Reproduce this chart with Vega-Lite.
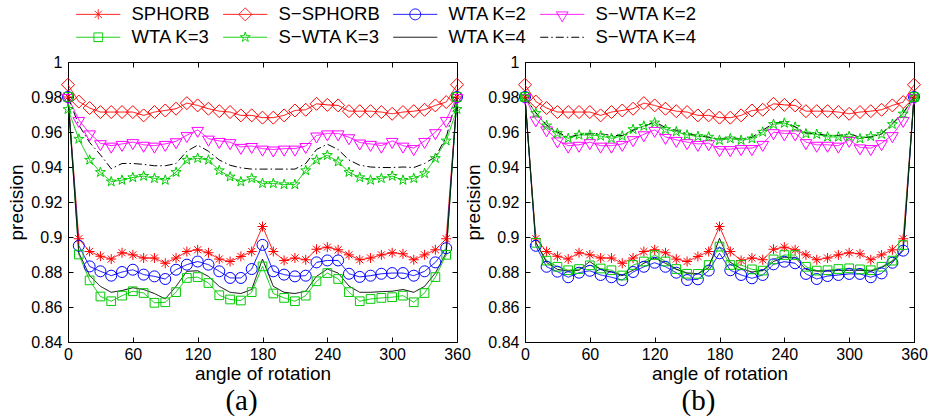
{
 "$schema": "https://vega.github.io/schema/vega-lite/v6.json",
 "padding": {"left": 7, "top": 5, "right": 0, "bottom": 0},
 "background": "white",
 "config": {
  "font": "Liberation Sans",
  "view": {"stroke": "black", "strokeWidth": 1},
  "axis": {"grid": false, "domain": false, "tickColor": "black", "tickSize": -5, "tickWidth": 1, "labelFontSize": 16, "labelColor": "black", "titleFontSize": 19, "titleFontWeight": "normal", "titleColor": "black", "labelFont": "Liberation Sans", "titleFont": "Liberation Sans", "labelFlush": false}
 },
 "data": {"values": [
  {"panel":"a","angle":0,"SPHORB":0.98,"S−SPHORB":0.987,"WTA K=2":0.98,"S−WTA K=2":0.98,"WTA K=3":0.98,"S−WTA K=3":0.973,"WTA K=4":0.98,"S−WTA K=4":0.98},
  {"panel":"a","angle":10,"SPHORB":0.899,"S−SPHORB":0.9774,"WTA K=2":0.895,"S−WTA K=2":0.9669,"WTA K=3":0.89,"S−WTA K=3":0.956,"WTA K=4":0.891,"S−WTA K=4":0.964},
  {"panel":"a","angle":20,"SPHORB":0.8917,"S−SPHORB":0.9737,"WTA K=2":0.8832,"S−WTA K=2":0.9592,"WTA K=3":0.8752,"S−WTA K=3":0.944,"WTA K=4":0.878,"S−WTA K=4":0.954},
  {"panel":"a","angle":30,"SPHORB":0.889,"S−SPHORB":0.9714,"WTA K=2":0.8804,"S−WTA K=2":0.9536,"WTA K=3":0.866,"S−WTA K=3":0.937,"WTA K=4":0.8718,"S−WTA K=4":0.947},
  {"panel":"a","angle":40,"SPHORB":0.8874,"S−SPHORB":0.9714,"WTA K=2":0.8779,"S−WTA K=2":0.9522,"WTA K=3":0.8633,"S−WTA K=3":0.9316,"WTA K=4":0.8684,"S−WTA K=4":0.939},
  {"panel":"a","angle":50,"SPHORB":0.891,"S−SPHORB":0.9714,"WTA K=2":0.88,"S−WTA K=2":0.9532,"WTA K=3":0.8665,"S−WTA K=3":0.9325,"WTA K=4":0.8694,"S−WTA K=4":0.942},
  {"panel":"a","angle":60,"SPHORB":0.8898,"S−SPHORB":0.9714,"WTA K=2":0.8813,"S−WTA K=2":0.9542,"WTA K=3":0.869,"S−WTA K=3":0.934,"WTA K=4":0.871,"S−WTA K=4":0.942},
  {"panel":"a","angle":70,"SPHORB":0.888,"S−SPHORB":0.9695,"WTA K=2":0.8785,"S−WTA K=2":0.9527,"WTA K=3":0.868,"S−WTA K=3":0.9348,"WTA K=4":0.87,"S−WTA K=4":0.9415},
  {"panel":"a","angle":80,"SPHORB":0.888,"S−SPHORB":0.9714,"WTA K=2":0.8775,"S−WTA K=2":0.9522,"WTA K=3":0.8624,"S−WTA K=3":0.9335,"WTA K=4":0.8677,"S−WTA K=4":0.9407},
  {"panel":"a","angle":90,"SPHORB":0.885,"S−SPHORB":0.9723,"WTA K=2":0.876,"S−WTA K=2":0.9532,"WTA K=3":0.8627,"S−WTA K=3":0.9325,"WTA K=4":0.8646,"S−WTA K=4":0.9407},
  {"panel":"a","angle":100,"SPHORB":0.888,"S−SPHORB":0.9733,"WTA K=2":0.8813,"S−WTA K=2":0.9547,"WTA K=3":0.8685,"S−WTA K=3":0.937,"WTA K=4":0.8718,"S−WTA K=4":0.942},
  {"panel":"a","angle":110,"SPHORB":0.8917,"S−SPHORB":0.9765,"WTA K=2":0.8842,"S−WTA K=2":0.9582,"WTA K=3":0.8766,"S−WTA K=3":0.944,"WTA K=4":0.8804,"S−WTA K=4":0.949},
  {"panel":"a","angle":120,"SPHORB":0.8927,"S−SPHORB":0.9752,"WTA K=2":0.886,"S−WTA K=2":0.9612,"WTA K=3":0.8771,"S−WTA K=3":0.945,"WTA K=4":0.8807,"S−WTA K=4":0.9525},
  {"panel":"a","angle":130,"SPHORB":0.891,"S−SPHORB":0.9733,"WTA K=2":0.8842,"S−WTA K=2":0.9562,"WTA K=3":0.8737,"S−WTA K=3":0.944,"WTA K=4":0.8775,"S−WTA K=4":0.949},
  {"panel":"a","angle":140,"SPHORB":0.8874,"S−SPHORB":0.9719,"WTA K=2":0.8804,"S−WTA K=2":0.9549,"WTA K=3":0.8667,"S−WTA K=3":0.938,"WTA K=4":0.8718,"S−WTA K=4":0.944},
  {"panel":"a","angle":150,"SPHORB":0.886,"S−SPHORB":0.9714,"WTA K=2":0.8766,"S−WTA K=2":0.9542,"WTA K=3":0.8643,"S−WTA K=3":0.9344,"WTA K=4":0.8684,"S−WTA K=4":0.941},
  {"panel":"a","angle":160,"SPHORB":0.8889,"S−SPHORB":0.9695,"WTA K=2":0.8766,"S−WTA K=2":0.9515,"WTA K=3":0.8637,"S−WTA K=3":0.9316,"WTA K=4":0.8677,"S−WTA K=4":0.9395},
  {"panel":"a","angle":170,"SPHORB":0.8917,"S−SPHORB":0.9695,"WTA K=2":0.8817,"S−WTA K=2":0.952,"WTA K=3":0.8685,"S−WTA K=3":0.9335,"WTA K=4":0.87,"S−WTA K=4":0.9388},
  {"panel":"a","angle":180,"SPHORB":0.906,"S−SPHORB":0.9682,"WTA K=2":0.8955,"S−WTA K=2":0.9505,"WTA K=3":0.8832,"S−WTA K=3":0.9306,"WTA K=4":0.8874,"S−WTA K=4":0.9388},
  {"panel":"a","angle":190,"SPHORB":0.8917,"S−SPHORB":0.9682,"WTA K=2":0.8804,"S−WTA K=2":0.95,"WTA K=3":0.8677,"S−WTA K=3":0.9306,"WTA K=4":0.8718,"S−WTA K=4":0.9388},
  {"panel":"a","angle":200,"SPHORB":0.8866,"S−SPHORB":0.9695,"WTA K=2":0.8785,"S−WTA K=2":0.9505,"WTA K=3":0.8652,"S−WTA K=3":0.93,"WTA K=4":0.8684,"S−WTA K=4":0.9388},
  {"panel":"a","angle":210,"SPHORB":0.888,"S−SPHORB":0.9723,"WTA K=2":0.8775,"S−WTA K=2":0.9505,"WTA K=3":0.8633,"S−WTA K=3":0.93,"WTA K=4":0.8677,"S−WTA K=4":0.9388},
  {"panel":"a","angle":220,"SPHORB":0.887,"S−SPHORB":0.9727,"WTA K=2":0.8779,"S−WTA K=2":0.952,"WTA K=3":0.8665,"S−WTA K=3":0.938,"WTA K=4":0.869,"S−WTA K=4":0.942},
  {"panel":"a","angle":230,"SPHORB":0.893,"S−SPHORB":0.9761,"WTA K=2":0.8855,"S−WTA K=2":0.958,"WTA K=3":0.8747,"S−WTA K=3":0.944,"WTA K=4":0.8775,"S−WTA K=4":0.95},
  {"panel":"a","angle":240,"SPHORB":0.8942,"S−SPHORB":0.9755,"WTA K=2":0.8866,"S−WTA K=2":0.9592,"WTA K=3":0.8794,"S−WTA K=3":0.9467,"WTA K=4":0.8817,"S−WTA K=4":0.953},
  {"panel":"a","angle":250,"SPHORB":0.8927,"S−SPHORB":0.9752,"WTA K=2":0.8866,"S−WTA K=2":0.9592,"WTA K=3":0.876,"S−WTA K=3":0.943,"WTA K=4":0.8794,"S−WTA K=4":0.95},
  {"panel":"a","angle":260,"SPHORB":0.8898,"S−SPHORB":0.9719,"WTA K=2":0.879,"S−WTA K=2":0.957,"WTA K=3":0.8685,"S−WTA K=3":0.937,"WTA K=4":0.872,"S−WTA K=4":0.944},
  {"panel":"a","angle":270,"SPHORB":0.887,"S−SPHORB":0.9719,"WTA K=2":0.8772,"S−WTA K=2":0.954,"WTA K=3":0.8633,"S−WTA K=3":0.934,"WTA K=4":0.8684,"S−WTA K=4":0.941},
  {"panel":"a","angle":280,"SPHORB":0.888,"S−SPHORB":0.9719,"WTA K=2":0.8779,"S−WTA K=2":0.9532,"WTA K=3":0.8646,"S−WTA K=3":0.9325,"WTA K=4":0.8684,"S−WTA K=4":0.94},
  {"panel":"a","angle":290,"SPHORB":0.8898,"S−SPHORB":0.9714,"WTA K=2":0.879,"S−WTA K=2":0.9522,"WTA K=3":0.8652,"S−WTA K=3":0.9335,"WTA K=4":0.8688,"S−WTA K=4":0.9397},
  {"panel":"a","angle":300,"SPHORB":0.891,"S−SPHORB":0.9704,"WTA K=2":0.8794,"S−WTA K=2":0.9549,"WTA K=3":0.8656,"S−WTA K=3":0.9348,"WTA K=4":0.869,"S−WTA K=4":0.9397},
  {"panel":"a","angle":310,"SPHORB":0.8904,"S−SPHORB":0.9714,"WTA K=2":0.8794,"S−WTA K=2":0.9522,"WTA K=3":0.8665,"S−WTA K=3":0.9325,"WTA K=4":0.87,"S−WTA K=4":0.94},
  {"panel":"a","angle":320,"SPHORB":0.887,"S−SPHORB":0.9719,"WTA K=2":0.8779,"S−WTA K=2":0.9508,"WTA K=3":0.8627,"S−WTA K=3":0.9335,"WTA K=4":0.8684,"S−WTA K=4":0.9397},
  {"panel":"a","angle":330,"SPHORB":0.8898,"S−SPHORB":0.9727,"WTA K=2":0.8804,"S−WTA K=2":0.9549,"WTA K=3":0.868,"S−WTA K=3":0.9363,"WTA K=4":0.8718,"S−WTA K=4":0.942},
  {"panel":"a","angle":340,"SPHORB":0.8927,"S−SPHORB":0.9752,"WTA K=2":0.8855,"S−WTA K=2":0.9599,"WTA K=3":0.8771,"S−WTA K=3":0.945,"WTA K=4":0.8794,"S−WTA K=4":0.9458},
  {"panel":"a","angle":350,"SPHORB":0.899,"S−SPHORB":0.9771,"WTA K=2":0.8936,"S−WTA K=2":0.9669,"WTA K=3":0.8898,"S−WTA K=3":0.955,"WTA K=4":0.891,"S−WTA K=4":0.957},
  {"panel":"a","angle":360,"SPHORB":0.98,"S−SPHORB":0.987,"WTA K=2":0.98,"S−WTA K=2":0.98,"WTA K=3":0.98,"S−WTA K=3":0.973,"WTA K=4":0.98,"S−WTA K=4":0.98},
  {"panel":"b","angle":0,"SPHORB":0.98,"S−SPHORB":0.987,"WTA K=2":0.98,"S−WTA K=2":0.98,"WTA K=3":0.98,"S−WTA K=3":0.98,"WTA K=4":0.98,"S−WTA K=4":0.98},
  {"panel":"b","angle":10,"SPHORB":0.899,"S−SPHORB":0.9774,"WTA K=2":0.895,"S−WTA K=2":0.9672,"WTA K=3":0.8967,"S−WTA K=3":0.9707,"WTA K=4":0.897,"S−WTA K=4":0.971},
  {"panel":"b","angle":20,"SPHORB":0.8917,"S−SPHORB":0.9737,"WTA K=2":0.883,"S−WTA K=2":0.9615,"WTA K=3":0.8865,"S−WTA K=3":0.9636,"WTA K=4":0.8855,"S−WTA K=4":0.964},
  {"panel":"b","angle":30,"SPHORB":0.889,"S−SPHORB":0.9714,"WTA K=2":0.8802,"S−WTA K=2":0.9552,"WTA K=3":0.883,"S−WTA K=3":0.9593,"WTA K=4":0.8815,"S−WTA K=4":0.96},
  {"panel":"b","angle":40,"SPHORB":0.8874,"S−SPHORB":0.9714,"WTA K=2":0.877,"S−WTA K=2":0.9522,"WTA K=3":0.881,"S−WTA K=3":0.9564,"WTA K=4":0.8805,"S−WTA K=4":0.957},
  {"panel":"b","angle":50,"SPHORB":0.891,"S−SPHORB":0.9714,"WTA K=2":0.8796,"S−WTA K=2":0.9527,"WTA K=3":0.8817,"S−WTA K=3":0.9583,"WTA K=4":0.881,"S−WTA K=4":0.9585},
  {"panel":"b","angle":60,"SPHORB":0.8898,"S−SPHORB":0.9714,"WTA K=2":0.8807,"S−WTA K=2":0.9542,"WTA K=3":0.8838,"S−WTA K=3":0.9583,"WTA K=4":0.886,"S−WTA K=4":0.959},
  {"panel":"b","angle":70,"SPHORB":0.888,"S−SPHORB":0.9695,"WTA K=2":0.8783,"S−WTA K=2":0.9522,"WTA K=3":0.882,"S−WTA K=3":0.9577,"WTA K=4":0.8815,"S−WTA K=4":0.959},
  {"panel":"b","angle":80,"SPHORB":0.888,"S−SPHORB":0.9714,"WTA K=2":0.877,"S−WTA K=2":0.9522,"WTA K=3":0.881,"S−WTA K=3":0.9564,"WTA K=4":0.88,"S−WTA K=4":0.958},
  {"panel":"b","angle":90,"SPHORB":0.885,"S−SPHORB":0.9723,"WTA K=2":0.8754,"S−WTA K=2":0.9532,"WTA K=3":0.878,"S−WTA K=3":0.9577,"WTA K=4":0.878,"S−WTA K=4":0.958},
  {"panel":"b","angle":100,"SPHORB":0.888,"S−SPHORB":0.9733,"WTA K=2":0.88,"S−WTA K=2":0.9559,"WTA K=3":0.884,"S−WTA K=3":0.9615,"WTA K=4":0.881,"S−WTA K=4":0.961},
  {"panel":"b","angle":110,"SPHORB":0.8917,"S−SPHORB":0.9765,"WTA K=2":0.883,"S−WTA K=2":0.9587,"WTA K=3":0.886,"S−WTA K=3":0.9634,"WTA K=4":0.885,"S−WTA K=4":0.963},
  {"panel":"b","angle":120,"SPHORB":0.8927,"S−SPHORB":0.9752,"WTA K=2":0.8853,"S−WTA K=2":0.9612,"WTA K=3":0.8897,"S−WTA K=3":0.9653,"WTA K=4":0.888,"S−WTA K=4":0.966},
  {"panel":"b","angle":130,"SPHORB":0.891,"S−SPHORB":0.9733,"WTA K=2":0.883,"S−WTA K=2":0.9572,"WTA K=3":0.886,"S−WTA K=3":0.9615,"WTA K=4":0.885,"S−WTA K=4":0.9625},
  {"panel":"b","angle":140,"SPHORB":0.8874,"S−SPHORB":0.9719,"WTA K=2":0.8796,"S−WTA K=2":0.9555,"WTA K=3":0.8817,"S−WTA K=3":0.9602,"WTA K=4":0.8815,"S−WTA K=4":0.961},
  {"panel":"b","angle":150,"SPHORB":0.886,"S−SPHORB":0.9714,"WTA K=2":0.8754,"S−WTA K=2":0.9542,"WTA K=3":0.879,"S−WTA K=3":0.9583,"WTA K=4":0.8795,"S−WTA K=4":0.959},
  {"panel":"b","angle":160,"SPHORB":0.8889,"S−SPHORB":0.9695,"WTA K=2":0.8758,"S−WTA K=2":0.9532,"WTA K=3":0.8789,"S−WTA K=3":0.9575,"WTA K=4":0.879,"S−WTA K=4":0.958},
  {"panel":"b","angle":170,"SPHORB":0.8917,"S−SPHORB":0.9695,"WTA K=2":0.8808,"S−WTA K=2":0.9536,"WTA K=3":0.884,"S−WTA K=3":0.9572,"WTA K=4":0.8825,"S−WTA K=4":0.957},
  {"panel":"b","angle":180,"SPHORB":0.906,"S−SPHORB":0.9682,"WTA K=2":0.8907,"S−WTA K=2":0.9502,"WTA K=3":0.8945,"S−WTA K=3":0.9553,"WTA K=4":0.8992,"S−WTA K=4":0.956},
  {"panel":"b","angle":190,"SPHORB":0.8917,"S−SPHORB":0.9682,"WTA K=2":0.881,"S−WTA K=2":0.9502,"WTA K=3":0.884,"S−WTA K=3":0.9562,"WTA K=4":0.8855,"S−WTA K=4":0.957},
  {"panel":"b","angle":200,"SPHORB":0.8866,"S−SPHORB":0.9695,"WTA K=2":0.8783,"S−WTA K=2":0.9508,"WTA K=3":0.884,"S−WTA K=3":0.9553,"WTA K=4":0.882,"S−WTA K=4":0.956},
  {"panel":"b","angle":210,"SPHORB":0.888,"S−SPHORB":0.9723,"WTA K=2":0.8764,"S−WTA K=2":0.9508,"WTA K=3":0.8815,"S−WTA K=3":0.9562,"WTA K=4":0.88,"S−WTA K=4":0.957},
  {"panel":"b","angle":220,"SPHORB":0.887,"S−SPHORB":0.9727,"WTA K=2":0.8783,"S−WTA K=2":0.9532,"WTA K=3":0.8808,"S−WTA K=3":0.96,"WTA K=4":0.8808,"S−WTA K=4":0.961},
  {"panel":"b","angle":230,"SPHORB":0.893,"S−SPHORB":0.9761,"WTA K=2":0.8844,"S−WTA K=2":0.9599,"WTA K=3":0.8872,"S−WTA K=3":0.9644,"WTA K=4":0.886,"S−WTA K=4":0.965},
  {"panel":"b","angle":240,"SPHORB":0.8942,"S−SPHORB":0.9755,"WTA K=2":0.8859,"S−WTA K=2":0.9592,"WTA K=3":0.8897,"S−WTA K=3":0.9651,"WTA K=4":0.8884,"S−WTA K=4":0.966},
  {"panel":"b","angle":250,"SPHORB":0.8927,"S−SPHORB":0.9752,"WTA K=2":0.885,"S−WTA K=2":0.9592,"WTA K=3":0.8897,"S−WTA K=3":0.9628,"WTA K=4":0.8884,"S−WTA K=4":0.963},
  {"panel":"b","angle":260,"SPHORB":0.8898,"S−SPHORB":0.9719,"WTA K=2":0.8789,"S−WTA K=2":0.9542,"WTA K=3":0.883,"S−WTA K=3":0.959,"WTA K=4":0.8815,"S−WTA K=4":0.9595},
  {"panel":"b","angle":270,"SPHORB":0.887,"S−SPHORB":0.9719,"WTA K=2":0.876,"S−WTA K=2":0.9527,"WTA K=3":0.8808,"S−WTA K=3":0.9587,"WTA K=4":0.8805,"S−WTA K=4":0.959},
  {"panel":"b","angle":280,"SPHORB":0.888,"S−SPHORB":0.9719,"WTA K=2":0.8777,"S−WTA K=2":0.9527,"WTA K=3":0.881,"S−WTA K=3":0.9572,"WTA K=4":0.8805,"S−WTA K=4":0.958},
  {"panel":"b","angle":290,"SPHORB":0.8898,"S−SPHORB":0.9714,"WTA K=2":0.8783,"S−WTA K=2":0.9522,"WTA K=3":0.8817,"S−WTA K=3":0.9572,"WTA K=4":0.881,"S−WTA K=4":0.958},
  {"panel":"b","angle":300,"SPHORB":0.891,"S−SPHORB":0.9704,"WTA K=2":0.8789,"S−WTA K=2":0.9555,"WTA K=3":0.8821,"S−WTA K=3":0.9575,"WTA K=4":0.881,"S−WTA K=4":0.959},
  {"panel":"b","angle":310,"SPHORB":0.8904,"S−SPHORB":0.9714,"WTA K=2":0.8789,"S−WTA K=2":0.9512,"WTA K=3":0.8815,"S−WTA K=3":0.9562,"WTA K=4":0.881,"S−WTA K=4":0.957},
  {"panel":"b","angle":320,"SPHORB":0.887,"S−SPHORB":0.9719,"WTA K=2":0.877,"S−WTA K=2":0.9508,"WTA K=3":0.881,"S−WTA K=3":0.9575,"WTA K=4":0.8805,"S−WTA K=4":0.957},
  {"panel":"b","angle":330,"SPHORB":0.8898,"S−SPHORB":0.9727,"WTA K=2":0.8792,"S−WTA K=2":0.9536,"WTA K=3":0.883,"S−WTA K=3":0.9587,"WTA K=4":0.8825,"S−WTA K=4":0.959},
  {"panel":"b","angle":340,"SPHORB":0.8927,"S−SPHORB":0.9752,"WTA K=2":0.8853,"S−WTA K=2":0.9582,"WTA K=3":0.8865,"S−WTA K=3":0.9644,"WTA K=4":0.886,"S−WTA K=4":0.965},
  {"panel":"b","angle":350,"SPHORB":0.899,"S−SPHORB":0.9771,"WTA K=2":0.8922,"S−WTA K=2":0.9669,"WTA K=3":0.8954,"S−WTA K=3":0.9704,"WTA K=4":0.893,"S−WTA K=4":0.971},
  {"panel":"b","angle":360,"SPHORB":0.98,"S−SPHORB":0.987,"WTA K=2":0.98,"S−WTA K=2":0.98,"WTA K=3":0.98,"S−WTA K=3":0.98,"WTA K=4":0.98,"S−WTA K=4":0.98}
 ]},
 "transform": [{"fold": ["SPHORB","S−SPHORB","WTA K=2","S−WTA K=2","WTA K=3","S−WTA K=3","WTA K=4","S−WTA K=4"], "as": ["series","value"]}],
 "bounds": "flush",
 "spacing": 68,
 "hconcat": [
  {
   "width": 389, "height": 280,
   "title": {"text": "(a)", "orient": "bottom", "font": "Liberation Serif", "fontSize": 29, "fontWeight": "normal", "color": "black", "dx": -21, "offset": 4},
   "transform": [{"filter": "datum.panel === 'a'"}],
   "layer": [
    {
     "mark": {"type": "line", "strokeWidth": 1},
     "encoding": {
      "x": {"field": "angle", "type": "quantitative", "scale": {"domain": [0, 360], "nice": false}, "axis": {"values": [0,60,120,180,240,300,360], "title": "angle of rotation", "labelPadding": 9, "titlePadding": 2}},
      "y": {"field": "value", "type": "quantitative", "scale": {"domain": [0.84, 1], "nice": false, "zero": false}, "axis": {"values": [0.84,0.86,0.88,0.9,0.92,0.94,0.96,0.98,1], "format": "~g", "title": "precision", "labelPadding": 11, "titlePadding": 4}},
      "color": {"field": "series", "type": "nominal", "scale": {"domain": ["SPHORB","S−SPHORB","WTA K=2","S−WTA K=2","WTA K=3","S−WTA K=3","WTA K=4","S−WTA K=4"], "range": ["#ff0000","#ff0000","#0000ff","#ff00ff","#00cc00","#00cc00","#000000","#000000"]},
       "legend": {"title": null, "orient": "none", "direction": "horizontal", "legendX": 3, "legendY": -57, "columns": 4, "symbolSize": 100, "symbolStrokeWidth": 1, "labelFontSize": 18.5, "labelFont": "Liberation Sans", "labelColor": "black", "symbolOffset": 18, "labelOffset": 24, "columnPadding": 8, "rowPadding": 4, "padding": 0, "labelLimit": 250,
        "encode": {"symbols": {"update": {
         "shape": {"signal": "datum.value === 'SPHORB' ? 'M-4.4,0H4.4M0,-1V1M-0.71,-0.71L0.71,0.71M-0.71,0.71L0.71,-0.71' : datum.value === 'S−SPHORB' ? 'M-4.4,0H4.4M0,-1.3L1.3,0L0,1.3L-1.3,0Z' : datum.value === 'WTA K=2' ? 'M-4.4,0H4.4M1.1,0L1.016,0.421L0.778,0.778L0.421,1.016L0,1.1L-0.421,1.016L-0.778,0.778L-1.016,0.421L-1.1,0L-1.016,-0.421L-0.778,-0.778L-0.421,-1.016L0,-1.1L0.421,-1.016L0.778,-0.778L1.016,-0.421Z' : datum.value === 'S−WTA K=2' ? 'M-4.4,0H4.4M-1.17,-0.5L1.17,-0.5L0,1.5Z' : datum.value === 'WTA K=3' ? 'M-4.4,0H4.4M-0.87,-0.87H0.87V0.87H-0.87Z' : datum.value === 'S−WTA K=3' ? 'M-4.4,0H4.4M0,-1.05L0.235,-0.324L0.999,-0.325L0.38,0.124L0.617,0.85L0,0.4L-0.617,0.85L-0.38,0.124L-0.999,-0.325L-0.235,-0.324Z' : 'M-4.4,0H4.4'"},
         "strokeDash": {"signal": "datum.value === 'S−WTA K=4' ? [8,3,1.5,3] : [1,0]"},
         "fill": {"value": "transparent"},
         "opacity": {"value": 1}
        }}}}},
      "strokeDash": {"field": "series", "type": "nominal", "scale": {"domain": ["SPHORB","S−SPHORB","WTA K=2","S−WTA K=2","WTA K=3","S−WTA K=3","WTA K=4","S−WTA K=4"], "range": [[1,0],[1,0],[1,0],[1,0],[1,0],[1,0],[1,0],[8,3,1.5,3]]}, "legend": null}
     }
    },
    {
     "transform": [{"filter": "datum.series !== 'WTA K=4' && datum.series !== 'S−WTA K=4'"}],
     "mark": {"type": "point", "filled": false, "size": 100, "strokeWidth": 1, "opacity": 1},
     "encoding": {
      "x": {"field": "angle", "type": "quantitative", "scale": {"domain": [0, 360], "nice": false}, "axis": {"orient": "top", "values": [0,60,120,180,240,300,360], "labels": false, "title": null}},
      "y": {"field": "value", "type": "quantitative", "scale": {"domain": [0.84, 1], "nice": false, "zero": false}, "axis": {"orient": "right", "values": [0.84,0.86,0.88,0.9,0.92,0.94,0.96,0.98,1], "labels": false, "title": null}},
      "color": {"field": "series", "type": "nominal"},
      "shape": {"field": "series", "type": "nominal", "scale": {"domain": ["SPHORB","S−SPHORB","WTA K=2","S−WTA K=2","WTA K=3","S−WTA K=3"], "range": ["M0,-1V1M-1,0H1M-0.71,-0.71L0.71,0.71M-0.71,0.71L0.71,-0.71","M0,-1.3L1.3,0L0,1.3L-1.3,0Z","M1.1,0L1.016,0.421L0.778,0.778L0.421,1.016L0,1.1L-0.421,1.016L-0.778,0.778L-1.016,0.421L-1.1,0L-1.016,-0.421L-0.778,-0.778L-0.421,-1.016L0,-1.1L0.421,-1.016L0.778,-0.778L1.016,-0.421Z","M-1.17,-0.5L1.17,-0.5L0,1.5Z","M-0.87,-0.87H0.87V0.87H-0.87Z","M0,-1.05L0.235,-0.324L0.999,-0.325L0.38,0.124L0.617,0.85L0,0.4L-0.617,0.85L-0.38,0.124L-0.999,-0.325L-0.235,-0.324Z"]}, "legend": null}
     }
    }
   ],
   "resolve": {"axis": {"x": "independent", "y": "independent"}}
  },
  {
   "width": 389, "height": 280,
   "title": {"text": "(b)", "orient": "bottom", "font": "Liberation Serif", "fontSize": 29, "fontWeight": "normal", "color": "black", "dx": -21, "offset": 4},
   "transform": [{"filter": "datum.panel === 'b'"}],
   "layer": [
    {
     "mark": {"type": "line", "strokeWidth": 1},
     "encoding": {
      "x": {"field": "angle", "type": "quantitative", "scale": {"domain": [0, 360], "nice": false}, "axis": {"values": [0,60,120,180,240,300,360], "title": "angle of rotation", "labelPadding": 9, "titlePadding": 2}},
      "y": {"field": "value", "type": "quantitative", "scale": {"domain": [0.84, 1], "nice": false, "zero": false}, "axis": {"values": [0.84,0.86,0.88,0.9,0.92,0.94,0.96,0.98,1], "format": "~g", "title": "precision", "labelPadding": 11, "titlePadding": 4}},
      "color": {"field": "series", "type": "nominal"},
      "strokeDash": {"field": "series", "type": "nominal", "legend": null}
     }
    },
    {
     "transform": [{"filter": "datum.series !== 'WTA K=4' && datum.series !== 'S−WTA K=4'"}],
     "mark": {"type": "point", "filled": false, "size": 100, "strokeWidth": 1, "opacity": 1},
     "encoding": {
      "x": {"field": "angle", "type": "quantitative", "scale": {"domain": [0, 360], "nice": false}, "axis": {"orient": "top", "values": [0,60,120,180,240,300,360], "labels": false, "title": null}},
      "y": {"field": "value", "type": "quantitative", "scale": {"domain": [0.84, 1], "nice": false, "zero": false}, "axis": {"orient": "right", "values": [0.84,0.86,0.88,0.9,0.92,0.94,0.96,0.98,1], "labels": false, "title": null}},
      "color": {"field": "series", "type": "nominal"},
      "shape": {"field": "series", "type": "nominal", "legend": null}
     }
    }
   ],
   "resolve": {"axis": {"x": "independent", "y": "independent"}}
  }
 ],
 "resolve": {"scale": {"color": "shared", "shape": "shared", "strokeDash": "shared"}, "legend": {"color": "shared"}}
}
